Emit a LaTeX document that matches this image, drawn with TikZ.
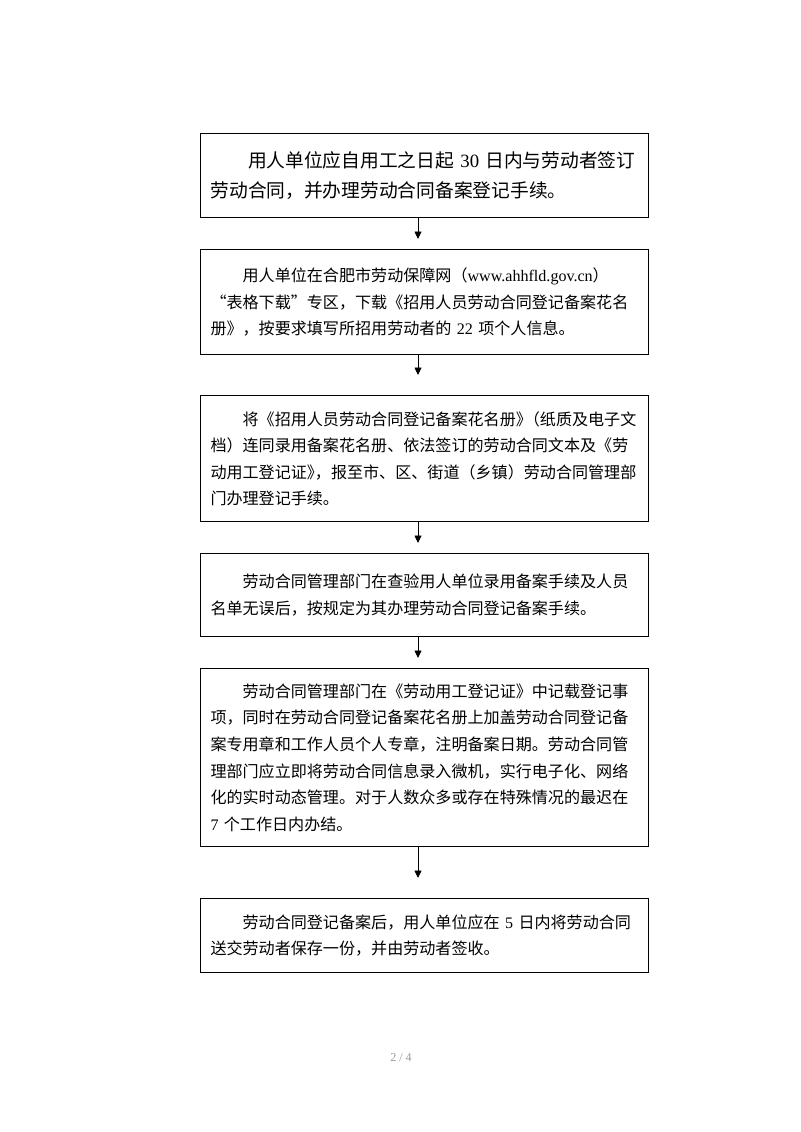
\documentclass[tikz,border=0pt]{standalone}
\usepackage{fontspec}
\setmainfont{Liberation Serif}
\newfontfamily\zhfont{Noto Sans CJK SC}
\usetikzlibrary{arrows.meta}
\newcommand{\hb}{\kern-.5em}

\begin{document}
\begin{tikzpicture}[x=0.02625cm, y=-0.02625cm,
  box/.style={draw, line width=0.9pt, anchor=north west, inner xsep=0.26cm, inner ysep=0pt,
    text width=11.24cm, align=left, minimum height=#1,
    font=\zhfont\fontsize{12pt}{19.8pt}\selectfont},
  flow/.style={-{Triangle[width=5.2pt,length=5.6pt]}, line width=0.7pt}]
\useasboundingbox (0,0) rectangle (800,1132);
% Boxes
\node[box=2.205cm, font=\zhfont\fontsize{14pt}{22.3pt}\selectfont] (s1) at (200,133)
  {\hspace*{2em}用人单位应自用工之日起{\rmfamily~30~}日内与劳动者签订\\劳动合同，并办理劳动合同备案登记手续。};
\node[box=2.756cm] (s2) at (200,249)
  {\hspace*{2em}用人单位在合肥市劳动保障网（{\rmfamily www.ahhfld.gov.cn}）\\“表格下载”专区，下载《招用人员劳动合同登记备案花名\\册》，按要求填写所招用劳动者的{\rmfamily~22~}项个人信息。};
\node[box=3.307cm] (s3) at (200,395)
  {\hspace*{2em}将《招用人员劳动合同登记备案花名册》\hb（纸质及电子文\\档）连同录用备案花名册、依法签订的劳动合同文本及《劳\\动用工登记证》\hb，报至市、区、街道（乡镇）劳动合同管理部\\门办理登记手续。};
\node[box=2.179cm] (s4) at (200,553)
  {\hspace*{2em}劳动合同管理部门在查验用人单位录用备案手续及人员\\名单无误后，按规定为其办理劳动合同登记备案手续。};
\node[box=4.672cm] (s5) at (200,668)
  {\hspace*{2em}劳动合同管理部门在《劳动用工登记证》中记载登记事\\项，同时在劳动合同登记备案花名册上加盖劳动合同登记备\\案专用章和工作人员个人专章，注明备案日期。劳动合同管\\理部门应立即将劳动合同信息录入微机，实行电子化、网络\\化的实时动态管理。对于人数众多或存在特殊情况的最迟在\\{\rmfamily 7~}个工作日内办结。};
\node[box=1.942cm] (s6) at (200,898)
  {\hspace*{2em}劳动合同登记备案后，用人单位应在{\rmfamily~5~}日内将劳动合同\\送交劳动者保存一份，并由劳动者签收。};
% Arrow tips
\coordinate (t1) at (418,239);
\coordinate (t2) at (418,375);
\coordinate (t3) at (418,543);
\coordinate (t4) at (418,658);
\coordinate (t5) at (418,878);
\draw[flow] (s1.south -| t1) -- (t1);
\draw[flow] (s2.south -| t2) -- (t2);
\draw[flow] (s3.south -| t3) -- (t3);
\draw[flow] (s4.south -| t4) -- (t4);
\draw[flow] (s5.south -| t5) -- (t5);
% Page number
\node[text=black!40, font=\rmfamily\fontsize{9pt}{9pt}\selectfont] (pg) at (401,1058) {2 / 4};
\end{tikzpicture}
\end{document}
